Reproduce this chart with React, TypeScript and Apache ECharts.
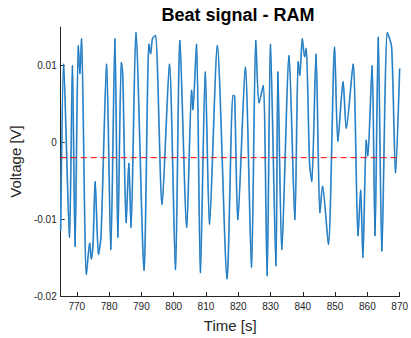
import React, { useEffect, useRef } from "react";
import * as echarts from "echarts";

const TIME = [
  765.0, 765.91, 767.72, 768.63, 769.45, 770.45, 770.96, 771.45, 772.96, 773.99,
  774.47, 774.99, 775.68, 776.71, 777.5, 779.22, 780.53, 781.8, 782.71, 783.77,
  784.22, 785.28, 786.1, 786.79, 788.31, 790.82, 792.33, 792.85, 793.45, 794.36,
  796.39, 798.69, 800.56, 801.92, 804.04, 805.56, 805.95, 807.07, 808.28, 809.79,
  811.1, 813.52, 816.54, 818.36, 818.87, 819.87, 822.2, 824.11, 825.44, 826.44,
  827.74, 828.95, 829.98, 831.68, 832.28, 833.49, 835.73, 837.55, 838.55, 839.06,
  839.85, 840.57, 841.06, 842.09, 842.78, 844.09, 845.3, 846.11, 847.93, 849.84,
  850.87, 852.47, 853.47, 855.59, 857.1, 857.92, 858.61, 859.64, 860.12, 861.46,
  862.37, 863.37, 864.49, 866.18, 867.51, 868.72, 870.0,
];

const VOLTAGE = [
  -0.0115, 0.0102, -0.0124, 0.01, -0.0136, 0.0126, 0.0089, 0.0135, -0.0172, -0.0131,
  -0.0152, -0.0135, -0.0051, -0.0146, -0.0122, 0.0102, -0.014, 0.0135, -0.0124, 0.0104,
  0.0089, -0.0105, -0.0027, -0.0111, 0.0143, -0.0167, 0.0128, 0.0115, 0.0135, 0.0139,
  -0.0081, 0.0102, -0.0166, 0.0133, -0.0111, 0.0068, 0.0042, 0.0128, -0.017, 0.0092,
  -0.0107, 0.0126, -0.0178, 0.0061, 0.006, -0.0101, 0.0098, -0.0163, 0.0133, 0.0051,
  0.0074, -0.0174, 0.0128, -0.0161, 0.0092, -0.014, 0.0113, -0.0101, 0.0105, 0.0087,
  0.0135, 0.0111, 0.0122, -0.0027, -0.0051, 0.0115, -0.0092, -0.0057, -0.0133, 0.0124,
  0.0001, 0.0079, 0.0018, 0.0102, -0.0122, -0.0062, -0.015, 0.0003, -0.0018, 0.01,
  -0.0122, 0.0137, -0.0142, 0.0143, 0.0124, -0.004, 0.0096,
];

const X_TICKS = [770, 780, 790, 800, 810, 820, 830, 840, 850, 860, 870];
const Y_TICKS = [-0.02, -0.01, 0, 0.01];
const THRESHOLD = -0.002;
const X_RANGE = [765, 870];
const Y_RANGE = [-0.02, 0.015];

const FONT = "'Liberation Sans', Arial, Helvetica, sans-serif";
const AXIS_COLOR = "#262626";

export default function App() {
  const ref = useRef<HTMLDivElement>(null);

  useEffect(() => {
    if (!ref.current) return;
    const chart = echarts.init(ref.current, undefined, { renderer: "svg" });
    const signal = TIME.map((t, i) => [t, VOLTAGE[i]]);
    const thresholdLine = X_RANGE.map((t) => [t, THRESHOLD]);

    chart.setOption({
      animation: false,
      backgroundColor: "#ffffff",
      title: {
        text: "Beat signal - RAM",
        left: 233,
        textAlign: "center",
        top: 1,
        textStyle: {
          fontFamily: FONT,
          fontWeight: "bold",
          fontSize: 18,
          color: "#000000",
        },
      },
      grid: { left: 59, right: 4, top: 27, bottom: 40, containLabel: false },
      xAxis: {
        type: "value",
        min: X_RANGE[0],
        max: X_RANGE[1],
        name: "Time [s]",
        nameLocation: "middle",
        nameGap: 22,
        nameTextStyle: { fontFamily: FONT, fontSize: 15, color: AXIS_COLOR },
        axisLine: { show: true, onZero: false, lineStyle: { color: AXIS_COLOR, width: 1 } },
        axisTick: { show: true, inside: true, length: 4, customValues: X_TICKS, lineStyle: { color: AXIS_COLOR } },
        axisLabel: { customValues: X_TICKS, fontFamily: FONT, fontSize: 10, color: AXIS_COLOR, margin: 5 },
        splitLine: { show: false },
      },
      yAxis: {
        type: "value",
        min: Y_RANGE[0],
        max: Y_RANGE[1],
        name: "Voltage [V]",
        nameLocation: "middle",
        nameGap: 31,
        nameTextStyle: { fontFamily: FONT, fontSize: 15, color: AXIS_COLOR },
        axisLine: { show: true, onZero: false, lineStyle: { color: AXIS_COLOR, width: 1 } },
        axisTick: { show: true, inside: true, length: 4, customValues: Y_TICKS, lineStyle: { color: AXIS_COLOR } },
        axisLabel: {
          customValues: Y_TICKS,
          fontFamily: FONT,
          fontSize: 10,
          color: AXIS_COLOR,
          margin: 4,
          formatter: (v: number) => String(Number(v.toFixed(4))),
        },
        splitLine: { show: false },
      },
      series: [
        {
          type: "line",
          data: signal,
          showSymbol: false,
          smooth: 0.25,
          lineStyle: { color: "#6aa8dc", width: 1.8 },
          z: 2,
        },
        {
          type: "line",
          data: signal,
          showSymbol: false,
          smooth: 0.25,
          lineStyle: { color: "#0a6fba", width: 0.8 },
          z: 3,
        },
        {
          type: "line",
          data: thresholdLine,
          showSymbol: false,
          lineStyle: { color: "#ff0000", width: 1, type: [6, 4] },
          z: 4,
        },
      ],
    });

    return () => chart.dispose();
  }, []);

  return <div ref={ref} style={{ width: 411, height: 338, position: "absolute", left: 0, top: 0 }} />;
}
